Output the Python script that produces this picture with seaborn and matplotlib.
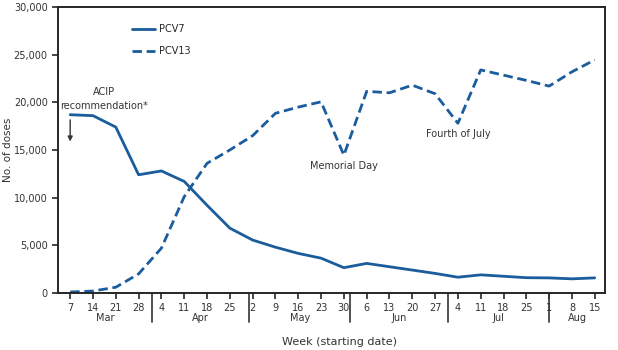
import numpy as np
import pandas as pd
from matplotlib import pyplot as plt
from matplotlib.lines import Line2D
import matplotlib.transforms as mtransforms
import seaborn as sns

# week starting dates
weeks = ['7', '14', '21', '28', '4', '11', '18', '25', '2', '9', '16', '23', '30',
         '6', '13', '20', '27', '4', '11', '18', '25', '1', '8', '15']
months = ['Mar', 'Apr', 'May', 'Jun', 'Jul', 'Aug']
# days from Mar 7 to the first of each following month
month_starts = [25, 55, 86, 116, 147]

pcv7 = [18700, 18600, 17400, 12400, 12800, 11700, 9200, 6800, 5550, 4800, 4150, 3650,
        2650, 3100, 2750, 2400, 2050, 1650, 1900, 1750, 1600, 1580, 1480, 1580]
pcv13 = [100, 200, 600, 2000, 4700, 10100, 13600, 15000, 16500, 18850, 19500, 20050,
         14450, 21150, 21000, 21800, 20900, 17800, 23400, 22850, 22300, 21700, 23200, 24450]

blue = '#1b5c9c'

df = pd.DataFrame({'week': list(range(len(weeks))) * 2,
                   'doses': pcv7 + pcv13,
                   'vaccine': ['PCV7'] * len(weeks) + ['PCV13'] * len(weeks)})

sns.set_style('ticks')
plt.rcParams['font.family'] = ['DejaVu Sans']
plt.rcParams['axes.linewidth'] = 1.4

fig = plt.figure(figsize=(6.18, 3.5), dpi=100)
ax = fig.add_axes([0.094, 0.163, 0.885, 0.817])

sns.lineplot(data=df, x='week', y='doses', style='vaccine', color=blue,
             dashes={'PCV7': '', 'PCV13': (3.4, 1.7)}, linewidth=2.0, legend=False, ax=ax)

ax.set_xlim(-0.53, 23.45)
ax.set_ylim(0, 30000)
ax.set_yticks(range(0, 30001, 5000))
ax.set_yticklabels([f'{v:,}' for v in range(0, 30001, 5000)], fontsize=7, color='#333333')
ax.set_xticks(range(len(weeks)))
ax.set_xticklabels(weeks, fontsize=7, color='#333333')
ax.tick_params(axis='both', direction='out', length=4.5, width=1.2, pad=3)
ax.set_xlabel('')
ax.set_ylabel('No. of doses', fontsize=7.5, color='#333333')
ax.yaxis.set_label_coords(-0.083, 0.5)
fig.text(0.55, 0.015, 'Week (starting date)', ha='center', fontsize=8, color='#333333')

# month separators and labels below the axis
trans = mtransforms.blended_transform_factory(ax.transData, ax.transAxes)
bounds = [b / 7 for b in month_starts]
for b in bounds:
    ax.plot([b, b], [0, -0.1], transform=trans, color='#333333', lw=1.2, clip_on=False)
edges = [-0.5] + bounds + [23.5]
for m, lo, hi in zip(months, edges[:-1], edges[1:]):
    ax.text((lo + hi) / 2, -0.088, m, transform=trans, ha='center', va='center',
            fontsize=7, color='#333333')

# annotations
ax.text(1.5, 20400, 'ACIP\nrecommendation*', ha='center', va='center', fontsize=7,
        color='#333333', linespacing=1.5)
ax.annotate('', xy=(0, 15600), xytext=(0, 18450),
            arrowprops=dict(arrowstyle='-|>', color='#333333', lw=1, mutation_scale=7))
ax.text(12.0, 13300, 'Memorial Day', ha='center', va='center', fontsize=7, color='#333333')
ax.text(17.0, 16700, 'Fourth of July', ha='center', va='center', fontsize=7, color='#333333')

handles = [Line2D([], [], color=blue, lw=2.0),
           Line2D([], [], color=blue, lw=2.0, dashes=(3.4, 1.7))]
ax.legend(handles, ['PCV7', 'PCV13'], loc='upper left', bbox_to_anchor=(0.12, 0.97),
          frameon=False, fontsize=7, handlelength=2.3, handletextpad=0.4,
          labelspacing=1.2)

for side in ['top', 'right']:
    ax.spines[side].set_visible(True)

fig.savefig('out.png', dpi=100)
